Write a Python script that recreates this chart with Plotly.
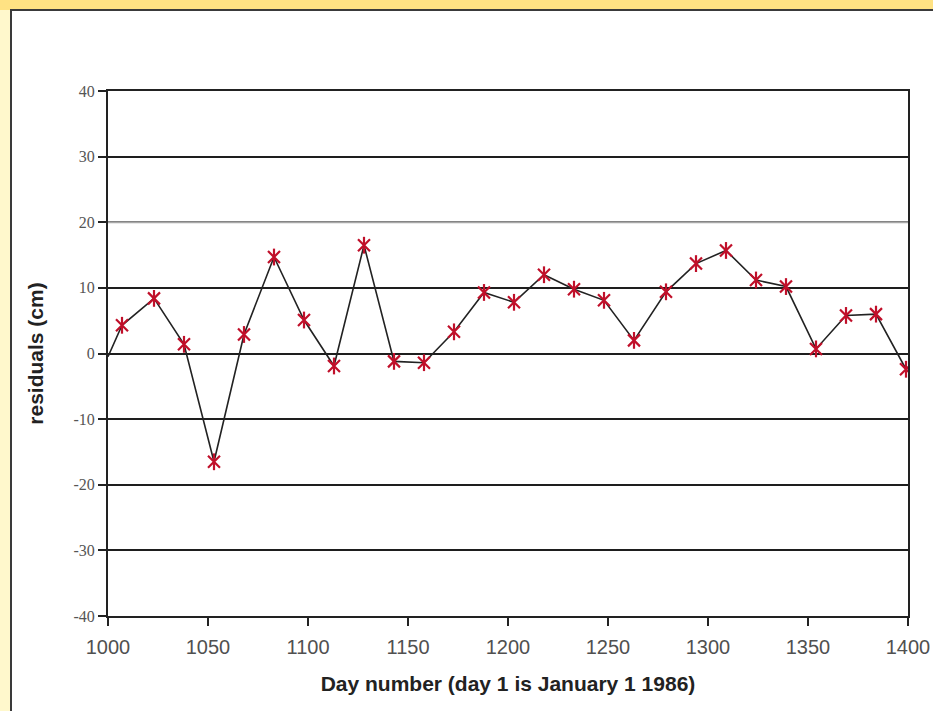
import plotly.graph_objects as go

# ---- data ----
day_start = [1000]
resid_start = [-0.5]
days = [1007, 1023, 1038, 1053, 1068, 1083, 1098, 1113, 1128, 1143, 1158, 1173, 1188,
        1203, 1218, 1233, 1248, 1263, 1279, 1294, 1309, 1324, 1339, 1354, 1369, 1384, 1399]
resid = [4.3, 8.4, 1.4, -16.5, 2.9, 14.7, 5.1, -1.9, 16.5, -1.2, -1.4, 3.3, 9.3,
         7.8, 12.0, 9.8, 8.1, 2.0, 9.4, 13.7, 15.7, 11.2, 10.2, 0.7, 5.8, 6.0, -2.4]
x_ticks = [1000, 1050, 1100, 1150, 1200, 1250, 1300, 1350, 1400]
y_ticks = [-40, -30, -20, -10, 0, 10, 20, 30, 40]
y_tick_text = ["-40", "-30", "-20", "-10", "0", "10", "20", "30", "40"]

RED = "#C0102A"

fig = go.Figure()
fig.add_trace(go.Scatter(x=day_start + days, y=resid_start + resid, mode="lines",
                         line=dict(color="#222222", width=1.6), showlegend=False,
                         hoverinfo="skip"))
fig.add_trace(go.Scatter(x=days, y=resid, mode="markers",
                         marker=dict(symbol="x-thin-open", size=12, color=RED,
                                     line=dict(color=RED, width=2.2)),
                         showlegend=False))
fig.add_trace(go.Scatter(x=days, y=resid, mode="markers",
                         marker=dict(symbol="line-ns-open", size=12, color=RED,
                                     line=dict(color=RED, width=2.2)),
                         showlegend=False))

L, R, T, B = 108, 25, 91, 95
W, H = 933, 711
pw, ph = W - L - R, H - T - B

def px_x(p):
    return (p - L) / pw

def px_y(p):
    return (H - B - p) / ph

shapes = [
    # top yellow band
    dict(type="rect", xref="paper", yref="paper", x0=px_x(-5), x1=px_x(W + 5),
         y0=px_y(10), y1=px_y(-5), fillcolor="#FFE283", line=dict(width=0), layer="below"),
    # inner white panel with dark border
    dict(type="rect", xref="paper", yref="paper", x0=px_x(11), x1=px_x(W + 20),
         y0=px_y(H + 20), y1=px_y(10), fillcolor="white",
         line=dict(color="#3a3a3a", width=2), layer="below"),
    # lighter 20 grid line
    dict(type="line", xref="paper", yref="y", x0=0, x1=1, y0=20, y1=20,
         line=dict(color="#a8a8a8", width=2), layer="above"),
]

fig.update_layout(
    width=W, height=H,
    margin=dict(l=L, r=R, t=T, b=B, autoexpand=False),
    paper_bgcolor="#FFF8CC",
    plot_bgcolor="white",
    shapes=shapes,
    showlegend=False,
    xaxis=dict(range=[1000, 1400], tickvals=x_ticks, ticks="outside", ticklen=8,
               tickwidth=2, tickcolor="#222", showline=True, linecolor="#222",
               linewidth=2, mirror=True, showgrid=False, zeroline=False,
               automargin=False,
               tickfont=dict(family="Liberation Sans, Arial", size=20, color="#505050"),
               ticklabelstandoff=4,
               title=dict(text="<b>Day number (day 1 is January 1 1986)</b>",
                          font=dict(family="Liberation Sans, Arial", size=21, color="#222"),
                          standoff=19)),
    yaxis=dict(range=[-40, 40], tickvals=y_ticks, ticktext=y_tick_text,
               ticks="outside", ticklen=8,
               tickwidth=2, tickcolor="#222", showline=True, linecolor="#222",
               linewidth=2, mirror=True, showgrid=True, gridcolor="#1e1e1e",
               gridwidth=1.6, zeroline=False, automargin=False,
               tickfont=dict(family="Liberation Serif, Times New Roman", size=16, color="#555"),
               ticklabelstandoff=0,
               title=dict(text="<b>residuals (cm)</b>",
                          font=dict(family="Liberation Sans, Arial", size=21, color="#222"),
                          standoff=24)),
)

fig.write_html("out.html",
               config={"displayModeBar": False},
               post_script="document.body.style.margin='0';"
                           "document.body.style.background='#FFF8CC';")
